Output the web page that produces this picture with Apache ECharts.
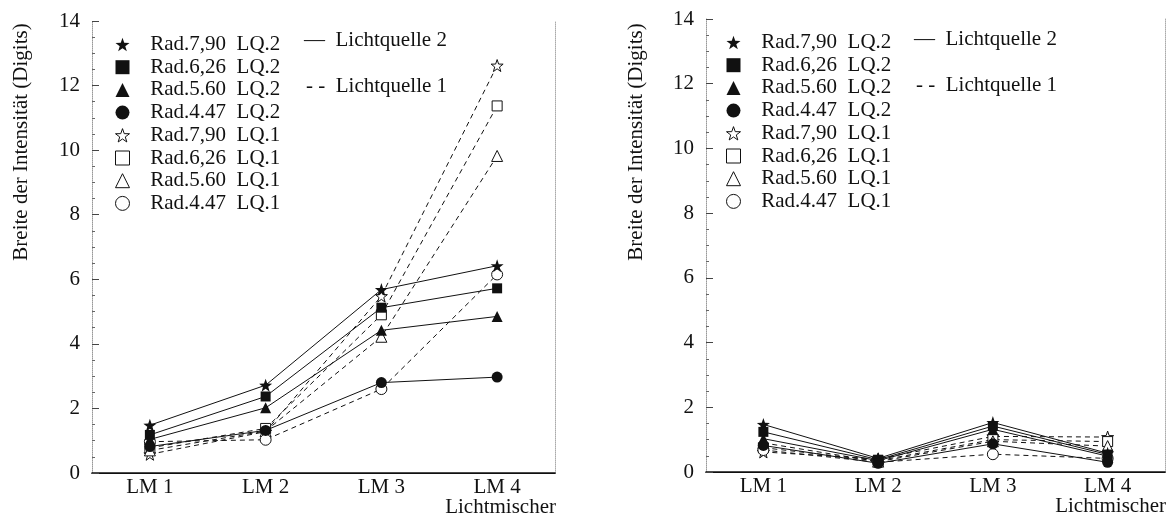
<!DOCTYPE html>
<html>
<head>
<meta charset="utf-8">
<script src="https://cdn.jsdelivr.net/npm/echarts@6/dist/echarts.min.js"></script>
<style>
html, body { margin: 0; padding: 0; background: #fff; }
#chart { width: 1169px; height: 517px; }
</style>
</head>
<body>
<div id="chart"></div>
<script>
var categories = ['LM 1', 'LM 2', 'LM 3', 'LM 4'];
var yTicks = [0, 14, 2];
var seriesNames = [
    'Rad.7,90  LQ.2', 'Rad.6,26  LQ.2', 'Rad.5.60  LQ.2', 'Rad.4.47  LQ.2',
    'Rad.7,90  LQ.1', 'Rad.6,26  LQ.1', 'Rad.5.60  LQ.1', 'Rad.4.47  LQ.1'
];
var sourceLabels = ['—  Lichtquelle 2', '- -  Lichtquelle 1'];
var yTitle = 'Breite der Intensität (Digits)';
var xTitle = 'Lichtmischer';

// left chart
var leftStar2 = [1.48, 2.72, 5.68, 6.42];
var leftSquare2 = [1.18, 2.37, 5.12, 5.72];
var leftTri2 = [1.04, 2.02, 4.42, 4.85];
var leftCircle2 = [0.82, 1.32, 2.80, 2.97];
var leftStar1 = [0.58, 1.28, 5.48, 12.62];
var leftSquare1 = [0.78, 1.38, 4.90, 11.37];
var leftTri1 = [0.70, 1.30, 4.22, 9.82];
var leftCircle1 = [0.97, 1.03, 2.60, 6.15];

// right chart
var rightStar2 = [1.47, 0.42, 1.53, 0.58];
var rightSquare2 = [1.24, 0.38, 1.42, 0.54];
var rightTri2 = [1.03, 0.35, 1.32, 0.49];
var rightCircle2 = [0.82, 0.27, 0.87, 0.30];
var rightStar1 = [0.62, 0.40, 1.10, 1.08];
var rightSquare1 = [0.75, 0.35, 1.00, 0.94];
var rightTri1 = [0.90, 0.32, 0.95, 0.80];
var rightCircle1 = [0.68, 0.30, 0.55, 0.42];

var STAR = 'path://M50,2 L61.8,36.2 L97.6,36.6 L69,58.5 L79.4,92.7 L50,72.2 L20.6,92.7 L31,58.5 L2.4,36.6 L38.2,36.2 Z';
var symbols = [STAR, 'rect', 'triangle', 'circle', STAR, 'rect', 'triangle', 'circle'];
var symbolSizes = [13, 10, 11, 11, 12, 10, 11, 11];
var FONT = '"Liberation Serif", "DejaVu Serif", serif';
var FS = 21;
var INK = '#111';

function MarkerStyle(i) {
    if (i >= 4) {
        return { color: '#fff', borderColor: INK, borderWidth: 1 };
    }
    return { color: INK, borderWidth: 0 };
}

function MakeSeries(values, i, xIdx, yIdx) {
    var hollow = i >= 4;
    return {
        name: seriesNames[i],
        type: 'line',
        xAxisIndex: xIdx,
        yAxisIndex: yIdx,
        data: values,
        symbol: symbols[i],
        symbolSize: symbolSizes[i],
        z: hollow ? 2 : 3,
        lineStyle: { color: INK, width: 1, type: hollow ? [5, 4] : 'solid' },
        itemStyle: MarkerStyle(i),
        emphasis: { disabled: true }
    };
}

function MakeAxes(gridIdx) {
    var x = [{
        type: 'category', gridIndex: gridIdx, data: categories, position: 'bottom',
        boundaryGap: true,
        axisLine: { lineStyle: { color: INK, width: 1.2 } },
        axisTick: { inside: true, length: 7, lineStyle: { color: INK } },
        axisLabel: { color: INK, fontFamily: FONT, fontSize: FS, margin: 4 }
    }, {
        type: 'category', gridIndex: gridIdx, data: categories, position: 'top',
        axisLine: { lineStyle: { color: INK, width: 1.5 } },
        axisTick: { show: false }, axisLabel: { show: false }
    }];
    var y = [{
        type: 'value', gridIndex: gridIdx, position: 'left',
        min: yTicks[0], max: yTicks[1], interval: yTicks[2],
        axisLine: { show: true, lineStyle: { color: '#999', width: 1, type: 'dotted' } },
        axisTick: { show: true, inside: true, length: 7, lineStyle: { color: '#444' } },
        minorTick: { show: true, splitNumber: 4, length: 3, lineStyle: { color: '#666' } },
        splitLine: { show: false },
        axisLabel: { color: INK, fontFamily: FONT, fontSize: FS, margin: 12 }
    }, {
        type: 'value', gridIndex: gridIdx, position: 'right',
        min: yTicks[0], max: yTicks[1], interval: yTicks[2],
        axisLine: { show: true, lineStyle: { color: '#aaa', width: 1, type: 'dotted' } },
        axisTick: { show: false }, axisLabel: { show: false }, splitLine: { show: false }
    }];
    return [x, y];
}

function MakeLegend(left, top) {
    var items = [];
    for (let i = 0; i < seriesNames.length; i++) {
        items.push({ name: seriesNames[i], icon: symbols[i], itemStyle: MarkerStyle(i) });
    }
    return {
        orient: 'vertical', left: left, top: top, padding: 0,
        itemWidth: 14, itemHeight: 14, itemGap: 1.7,
        selectedMode: false,
        formatter: function (name) { return '   ' + name; },
        textStyle: { color: INK, fontFamily: FONT, fontSize: FS, lineHeight: FS },
        data: items
    };
}

function TextItem(text, x, y, align, rotate) {
    return {
        type: 'text', x: x, y: y, rotation: rotate ? Math.PI / 2 : 0,
        style: { text: text, fill: INK, font: FS + 'px ' + FONT, align: align, verticalAlign: 'middle' }
    };
}

var chart = echarts.init(document.getElementById('chart'), null, { renderer: 'canvas' });
var axesL = MakeAxes(0);
var axesR = MakeAxes(1);

var leftData = [leftStar2, leftSquare2, leftTri2, leftCircle2, leftStar1, leftSquare1, leftTri1, leftCircle1];
var rightData = [rightStar2, rightSquare2, rightTri2, rightCircle2, rightStar1, rightSquare1, rightTri1, rightCircle1];
var series = [];
for (let i = 0; i < 8; i++) {
    series.push(MakeSeries(leftData[i], i, 0, 0));
    series.push(MakeSeries(rightData[i], i, 2, 2));
}

var option = {
    backgroundColor: '#fff',
    animation: false,
    grid: [
        { left: 92, right: 614, top: 21, bottom: 44 },
        { left: 706, right: 4, top: 19, bottom: 45 }
    ],
    xAxis: axesL[0].concat(axesR[0]),
    yAxis: axesL[1].concat(axesR[1]),
    legend: [MakeLegend(115, 34), MakeLegend(726, 32)],
    graphic: [
        TextItem(yTitle, 21, 142, 'center', true),
        TextItem(yTitle, 636, 142, 'center', true),
        TextItem(xTitle, 556, 507, 'right'),
        TextItem(xTitle, 1166, 506, 'right'),
        TextItem(sourceLabels[0], 304, 40, 'left'),
        TextItem(sourceLabels[1], 306, 86, 'left'),
        TextItem(sourceLabels[0], 914, 39, 'left'),
        TextItem(sourceLabels[1], 916, 85, 'left')
    ],
    series: series
};
chart.setOption(option);
</script>
</body>
</html>
